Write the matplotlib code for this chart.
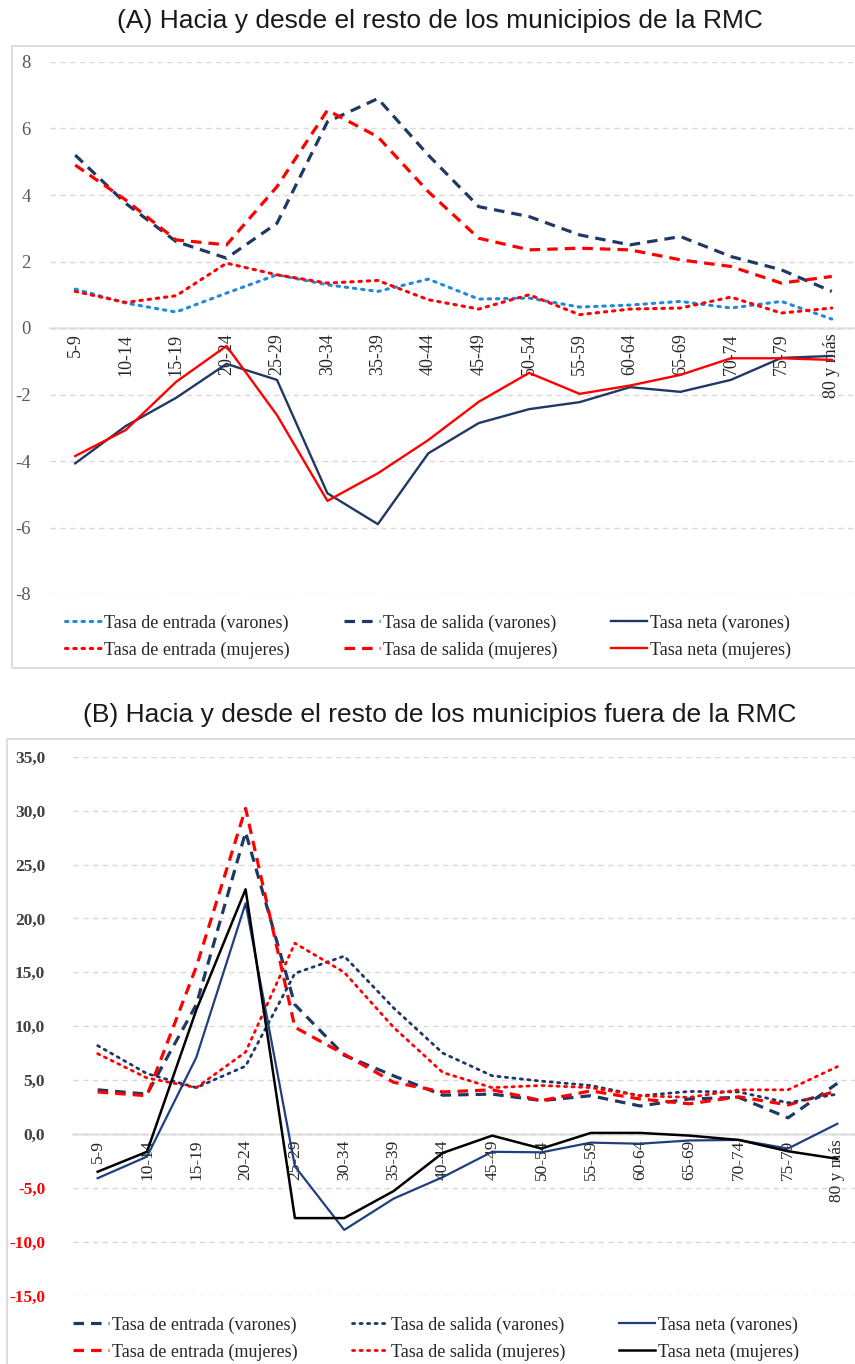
import numpy as np
import matplotlib
matplotlib.use("Agg")
import matplotlib.pyplot as plt
from matplotlib.patches import Rectangle

# ---------------- data ----------------
categories = ["5-9", "10-14", "15-19", "20-24", "25-29", "30-34", "35-39", "40-44",
              "45-49", "50-54", "55-59", "60-64", "65-69", "70-74", "75-79", "80 y más"]

# Panel A
a_entrada_var = [1.17, 0.75, 0.48, 1.05, 1.60, 1.30, 1.10, 1.47, 0.87, 0.90, 0.63, 0.69, 0.80, 0.60, 0.80, 0.27]
a_salida_var = [5.20, 3.75, 2.60, 2.10, 3.15, 6.20, 6.90, 5.20, 3.65, 3.35, 2.80, 2.50, 2.75, 2.15, 1.75, 1.10]
a_neta_var = [-4.07, -2.95, -2.10, -1.08, -1.56, -4.97, -5.90, -3.77, -2.86, -2.44, -2.23, -1.78, -1.92, -1.56, -0.90, -0.84]
a_entrada_muj = [1.10, 0.77, 0.97, 1.95, 1.60, 1.35, 1.43, 0.85, 0.57, 1.00, 0.40, 0.57, 0.60, 0.93, 0.45, 0.60]
a_salida_muj = [4.90, 3.85, 2.65, 2.50, 4.25, 6.55, 5.75, 4.10, 2.70, 2.35, 2.40, 2.35, 2.05, 1.85, 1.35, 1.55]
a_neta_muj = [-3.85, -3.07, -1.62, -0.54, -2.62, -5.20, -4.37, -3.37, -2.22, -1.35, -1.98, -1.73, -1.41, -0.91, -0.91, -0.96]

# Panel B
b_entrada_var = [4.10, 3.70, 12.0, 28.0, 12.0, 7.3, 5.4, 3.6, 3.7, 3.1, 3.55, 2.6, 3.25, 3.4, 1.5, 4.7]
b_salida_var = [8.2, 5.6, 4.3, 6.3, 14.9, 16.5, 11.7, 7.5, 5.4, 4.9, 4.5, 3.55, 3.95, 3.9, 2.9, 3.7]
b_neta_var = [-4.1, -2.1, 7.1, 21.4, -3.0, -8.9, -6.0, -4.0, -1.65, -1.7, -0.8, -0.9, -0.6, -0.55, -1.35, 0.95]
b_entrada_muj = [3.9, 3.55, 15.5, 30.2, 9.9, 7.4, 4.8, 3.9, 4.1, 3.1, 4.0, 3.25, 2.8, 3.45, 2.7, 4.0]
b_salida_muj = [7.45, 5.2, 4.3, 7.6, 17.7, 15.0, 9.9, 5.7, 4.3, 4.5, 4.3, 3.55, 3.4, 4.1, 4.1, 6.25]
b_neta_muj = [-3.5, -1.65, 11.5, 22.7, -7.8, -7.8, -5.3, -1.75, -0.15, -1.35, 0.1, 0.1, -0.15, -0.55, -1.6, -2.3]

a_yticks = [-8, -6, -4, -2, 0, 2, 4, 6, 8]
b_yticks = [-15, -10, -5, 0, 5, 10, 15, 20, 25, 30, 35]

# ---------------- style ----------------
NAVY = "#1f3864"
NAVY2 = "#203f80"
RED = "#ff0000"
LBLUE = "#2189d9"
GRID = "#d9d9d9"
SERIF = "Liberation Serif"
SANS = "Liberation Sans"

DASH = (0, (3.3, 2.2))
DOT = (0, (0.8, 1.9))

W, H = 855, 1364
fig = plt.figure(figsize=(W / 100, H / 100), dpi=100)


def fr(x0, y0, x1, y1):
    return [x0 / W, 1 - y1 / H, (x1 - x0) / W, (y1 - y0) / H]


def style_axes(ax, yticks, ylim, xtick_fs):
    for s in ["left", "right", "top"]:
        ax.spines[s].set_visible(False)
    ax.spines["bottom"].set_position(("data", 0))
    ax.spines["bottom"].set_color("#e6e6e6")
    ax.spines["bottom"].set_linewidth(1.8)
    ax.spines["bottom"].set_zorder(0.5)
    x = np.arange(len(categories))
    ax.set_xlim(-0.5, len(categories) - 0.5)
    ax.set_ylim(*ylim)
    ax.set_xticks(x)
    ax.set_xticklabels(categories, rotation=90, ha="center", va="top",
                       fontsize=xtick_fs, family=SERIF, color="#262626")
    ax.tick_params(axis="x", length=0, pad=4, labelrotation=90)
    ax.tick_params(axis="y", length=0)
    ax.set_yticks(yticks)
    ax.grid(axis="y", linestyle=(0, (4, 3)), color=GRID, linewidth=1.0, zorder=0)
    ax.set_axisbelow(True)
    ax.patch.set_alpha(0)


# ---------------- Panel A ----------------
fig.add_artist(Rectangle((12 / W, 1 - 668 / H), 848 / W, 622 / H, transform=fig.transFigure,
                         fill=False, edgecolor="#d9d9d9", linewidth=1.3))
fig.text(440 / W, 1 - 21 / H, "(A) Hacia y desde el resto de los municipios de la RMC",
         ha="center", va="center", fontsize=19, family=SANS, color="#1a1a1a")

ax1 = fig.add_axes(fr(50, 62, 857, 594))
style_axes(ax1, a_yticks, (-8, 8), 13)
ax1.set_yticklabels([str(v) for v in a_yticks], family=SERIF, fontsize=13.5, color="#595959")
ax1.tick_params(axis="y", pad=14)
xa = np.arange(len(categories))
l_ev, = ax1.plot(xa, a_entrada_var, color=LBLUE, lw=2.2, linestyle=DOT, dash_capstyle="round",
                 label="Tasa de entrada (varones)")
l_em, = ax1.plot(xa, a_entrada_muj, color=RED, lw=2.2, linestyle=DOT, dash_capstyle="round",
                 label="Tasa de entrada (mujeres)")
l_sv, = ax1.plot(xa, a_salida_var, color=NAVY, lw=2.3, linestyle=DASH,
                 label="Tasa de salida (varones)")
l_sm, = ax1.plot(xa, a_salida_muj, color=RED, lw=2.3, linestyle=DASH,
                 label="Tasa de salida (mujeres)")
l_nv, = ax1.plot(xa, a_neta_var, color=NAVY, lw=1.7, label="Tasa neta (varones)")
l_nm, = ax1.plot(xa, a_neta_muj, color=RED, lw=1.7, label="Tasa neta (mujeres)")

fig.legend(handles=[l_ev, l_em, l_sv, l_sm, l_nv, l_nm], ncol=3, loc="center",
           bbox_to_anchor=(428 / W, 1 - 636.5 / H), frameon=False,
           prop={"family": SERIF, "size": 13}, handlelength=2.0, handletextpad=0.15,
           columnspacing=3.0, labelspacing=0.55, labelcolor="#262626")

# ---------------- Panel B ----------------
fig.add_artist(Rectangle((7 / W, 1 - 1370 / H), 853 / W, 631 / H, transform=fig.transFigure,
                         fill=False, edgecolor="#d9d9d9", linewidth=1.3))
fig.text(440 / W, 1 - 715 / H, "(B) Hacia y desde el resto de los municipios fuera de la RMC",
         ha="center", va="center", fontsize=19, family=SANS, color="#1a1a1a")

ax2 = fig.add_axes(fr(73, 756.7, 862, 1295.7))
style_axes(ax2, b_yticks, (-15, 35), 12.5)
ax2.set_yticklabels([f"{v:.1f}".replace(".", ",") for v in b_yticks], family=SERIF,
                    fontsize=12.5, fontweight="bold")
for lab, v in zip(ax2.get_yticklabels(), b_yticks):
    lab.set_color(RED if v < 0 else "#404040")
ax2.tick_params(axis="y", pad=20)
xb = np.arange(len(categories))
m_ev, = ax2.plot(xb, b_entrada_var, color=NAVY, lw=2.3, linestyle=DASH,
                 label="Tasa de entrada (varones)")
m_em, = ax2.plot(xb, b_entrada_muj, color=RED, lw=2.3, linestyle=DASH,
                 label="Tasa de entrada (mujeres)")
m_sv, = ax2.plot(xb, b_salida_var, color=NAVY, lw=2.0, linestyle=DOT, dash_capstyle="round",
                 label="Tasa de salida (varones)")
m_sm, = ax2.plot(xb, b_salida_muj, color=RED, lw=2.0, linestyle=DOT, dash_capstyle="round",
                 label="Tasa de salida (mujeres)")
m_nv, = ax2.plot(xb, b_neta_var, color=NAVY2, lw=1.6, label="Tasa neta (varones)")
m_nm, = ax2.plot(xb, b_neta_muj, color="black", lw=1.8, label="Tasa neta (mujeres)")

fig.legend(handles=[m_ev, m_em, m_sv, m_sm, m_nv, m_nm], ncol=3, loc="center",
           bbox_to_anchor=(436 / W, 1 - 1338.5 / H), frameon=False,
           prop={"family": SERIF, "size": 13}, handlelength=2.0, handletextpad=0.15,
           columnspacing=3.0, labelspacing=0.55, labelcolor="#262626")

fig.savefig("out.png", dpi=100)
